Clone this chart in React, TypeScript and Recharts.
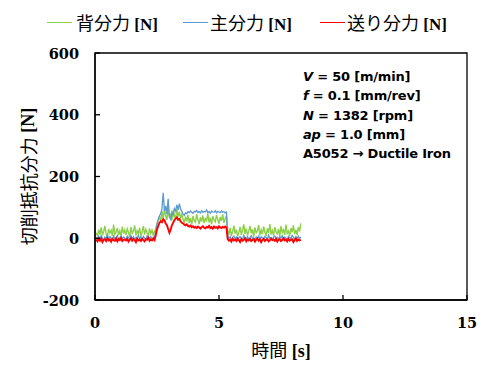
import { LineChart, Line, XAxis, YAxis, ReferenceArea } from 'recharts';

// sample times [s]
const time = [
  0.05, 0.1, 0.15, 0.2, 0.25, 0.3, 0.35, 0.4, 0.45, 0.5, 0.55, 0.6, 0.65, 0.7, 0.75, 0.8, 0.85, 0.9, 0.95, 1.0,
  1.05, 1.1, 1.15, 1.2, 1.25, 1.3, 1.35, 1.4, 1.45, 1.5, 1.55, 1.6, 1.65, 1.7, 1.75, 1.8, 1.85, 1.9, 1.95, 2.0,
  2.05, 2.1, 2.15, 2.2, 2.25, 2.3, 2.35, 2.4, 2.45, 2.5, 2.55, 2.6, 2.65, 2.7, 2.75, 2.8, 2.85, 2.9, 2.95, 3.0,
  3.05, 3.1, 3.15, 3.2, 3.25, 3.3, 3.35, 3.4, 3.45, 3.5, 3.55, 3.6, 3.65, 3.7, 3.75, 3.8, 3.85, 3.9, 3.95, 4.0,
  4.05, 4.1, 4.15, 4.2, 4.25, 4.3, 4.35, 4.4, 4.45, 4.5, 4.55, 4.6, 4.65, 4.7, 4.75, 4.8, 4.85, 4.9, 4.95, 5.0,
  5.05, 5.1, 5.15, 5.2, 5.25, 5.3, 5.35, 5.4, 5.45, 5.5, 5.55, 5.6, 5.65, 5.7, 5.75, 5.8, 5.85, 5.9, 5.95, 6.0,
  6.05, 6.1, 6.15, 6.2, 6.25, 6.3, 6.35, 6.4, 6.45, 6.5, 6.55, 6.6, 6.65, 6.7, 6.75, 6.8, 6.85, 6.9, 6.95, 7.0,
  7.05, 7.1, 7.15, 7.2, 7.25, 7.3, 7.35, 7.4, 7.45, 7.5, 7.55, 7.6, 7.65, 7.7, 7.75, 7.8, 7.85, 7.9, 7.95, 8.0,
  8.05, 8.1, 8.15, 8.2, 8.25, 8.3,
];

// 背分力 [N]
const backForce = [
  18, 6, 28, 12, 35, 9, 22, 40, 14, 5, 30, 17, 26, 8, 44, 13, 20, 33, 10, 24,
  7, 38, 15, 27, 11, 31, 19, 4, 36, 16, 23, 42, 9, 25, 14, 34, 6, 21, 39, 12,
  29, 18, 8, 32, 15, 26, 10, 22,
  30, 45, 58,
  70, 55, 88, 64, 95, 72, 60, 98, 68, 80, 57, 90, 75, 62, 94, 70, 85, 66, 78,
  62, 48, 70, 55, 76, 50, 66, 44, 72, 58, 52, 78, 60, 46, 68, 54, 74, 49, 64, 57,
  80, 51, 67, 45, 71, 59, 53, 75, 61, 47, 69, 56, 77, 50, 65, 72,
  25, 12, 34, 8, 22, 41, 15, 28, 6, 19, 37, 11, 26, 45, 14, 31, 9, 23, 40, 16,
  29, 5, 35, 18, 24, 43, 10, 27, 13, 38, 20, 7, 32, 17, 46, 12, 25, 9, 36, 21,
  14, 30, 6, 39, 18, 27, 11, 44, 16, 23, 8, 33, 19, 42, 13, 28, 10, 37, 22, 48,
];

// 主分力 [N]
const mainForce = [
  3, -4, 6, -2, 8, 0, -6, 4, -1, 10, -3, 5, 1, -5, 7, -2, 3, 9, -4, 2,
  6, -1, 4, 0, -5, 7, 2, -3, 8, -1, 5, -6, 3, 1, 9, -2, 4, -4, 6, 0,
  -3, 7, 2, -1, 5, -5, 3, 1,
  25, 48, 62,
  72, 80, 95, 147, 88, 105, 78, 128, 70, 62, 85, 75, 96, 88, 108, 92, 112, 95, 88,
  78, 74, 82, 80, 86, 83, 88, 84, 81, 87, 85, 90, 83, 86, 82, 89, 84, 87, 85, 92,
  83, 86, 81, 88, 85, 84, 89, 82, 87, 85, 83, 88, 84, 86, 82, 85,
  8, -2, 5, -4, 3, 7, -1, 4, -5, 2, 6, 0, -3, 9, 1, -2, 5, -4, 3, 8,
  -1, 2, -6, 4, 0, 7, -3, 5, 1, -2, 6, 3, -4, 10, 0, 2, -5, 4, 7, -1,
  3, -3, 5, 1, 8, -2, 4, 0, -4, 6, 2, -1, 9, 3, -3, 5, 0, 7, -2, 4,
];

// 送り分力 [N]
const feedForce = [
  -4, -10, -2, -8, -1, -12, -5, -3, -9, 0, -7, -4, -11, -2, -6, -8, -1, -10, -3, -6,
  1, -9, -5, -4, -7, -2, -11, -5, 0, -8, -3, -6, -13, -1, -7, -4, -9, -2, -6, -10,
  -3, -5, 2, -8, -4, -7, -1, -6,
  10, 28, 40,
  50, 55, 52, 62, 58, 48, 42, 30, 18, 28, 42, 50, 58, 64, 68, 60, 62, 55, 50,
  48, 44, 42, 45, 40, 38, 41, 36, 39, 34, 37, 33, 38, 35, 31, 36, 39, 34, 32, 37,
  35, 40, 33, 36, 31, 38, 34, 36, 32, 39, 35, 33, 37, 34, 38, 35,
  -3, -8, -5, -11, -2, -7, -4, -9, -1, -6, -12, -3, -8, -5, 0, -10, -4, -7, -2, -9,
  -6, -3, -11, -5, -1, -8, -4, -13, -6, -2, -9, -5, -3, -10, -7, -1, -6, -4, -8, -2,
  -11, -5, -3, -9, -6, 0, -7, -4, -10, -2, -8, -5, -3, -12, -6, -1, -9, -4, -7, -5,
];

const xTicks = [0, 5, 10, 15];
const yTicks = [-200, 0, 200, 400, 600];

const seriesNames = ['背分力', '主分力', '送り分力'];
const conditions = [
  { it: 'V', rest: ' = 50 [m/min]' },
  { it: 'f', rest: ' = 0.1 [mm/rev]' },
  { it: 'N', rest: ' = 1382 [rpm]' },
  { it: 'ap', rest: ' = 1.0 [mm]' },
  { it: '', rest: 'A5052 → Ductile Iron' },
];

const GREEN = '#8cd048';
const BLUE = '#5a9ad2';
const RED = '#ff0000';
const colors = [GREEN, BLUE, RED];

const data = time.map((t, i) => ({
  t,
  back: backForce[i],
  main: mainForce[i],
  feed: feedForce[i],
}));

const CJK = '"Noto Sans CJK JP", sans-serif';
const SERIF = '"Liberation Serif", "Times New Roman", serif';
const TICK_FONT = '"DejaVu Serif", serif';

const legendPos = [
  { line: 47, text: 76 },
  { line: 183, text: 210 },
  { line: 320, text: 347 },
];

const YTick = ({ x, y, payload }: any) => (
  <text x={x} y={y} textAnchor="end" dominantBaseline="central" fill="#000"
    fontFamily={TICK_FONT} fontWeight="bold" fontSize={14.5}>
    {payload.value}
  </text>
);

const XTick = ({ x, y, payload }: any) => (
  <text x={x} y={y} dy="0.71em" textAnchor="middle" fill="#000"
    fontFamily={TICK_FONT} fontWeight="bold" fontSize={14.5}>
    {payload.value}
  </text>
);

export default function App() {
  return (
    <div style={{ position: 'relative', width: 491, height: 378 }}>
      <style>{'body{margin:0}'}</style>
      <LineChart width={491} height={378} data={data} margin={{ top: 53, right: 24, bottom: 0, left: 0 }}>
        <ReferenceArea x1={0} x2={15} y1={-200} y2={600} stroke="#000" strokeWidth={1.3} fill="none" fillOpacity={0} />
        <XAxis
          dataKey="t"
          type="number"
          domain={[0, 15]}
          ticks={xTicks}
          height={78}
          tickSize={-5}
          tickMargin={23}
          axisLine={{ stroke: '#000', strokeWidth: 1.3 }}
          tickLine={{ stroke: '#000', strokeWidth: 1.3 }}
          tick={<XTick />}
          label={({ viewBox }: any) => (
            <text x={viewBox.x + viewBox.width / 2} y={357} textAnchor="middle" fill="#000">
              <tspan fontFamily={CJK} fontSize={18}>時間</tspan>
              <tspan fontFamily={SERIF} fontSize={18} fontWeight="bold"> [s]</tspan>
            </text>
          )}
        />
        <YAxis
          type="number"
          domain={[-200, 600]}
          ticks={yTicks}
          width={95}
          tickSize={-5}
          tickMargin={21}
          axisLine={{ stroke: '#000', strokeWidth: 1.3 }}
          tickLine={{ stroke: '#000', strokeWidth: 1.3 }}
          tick={<YTick />}
          label={({ viewBox }: any) => {
            const cy = viewBox.y + viewBox.height / 2;
            return (
              <text x={28} y={cy} textAnchor="middle" dominantBaseline="central" fill="#000"
                transform={`rotate(-90, 28, ${cy})`}>
                <tspan fontFamily={CJK} fontSize={18}>切削抵抗分力</tspan>
                <tspan fontFamily={SERIF} fontSize={18} fontWeight="bold"> [N]</tspan>
              </text>
            );
          }}
        />
        <Line dataKey="back" name="背分力 [N]" stroke={GREEN} strokeWidth={1.4} dot={false} isAnimationActive={false} />
        <Line dataKey="main" name="主分力 [N]" stroke={BLUE} strokeWidth={1.3} dot={false} isAnimationActive={false} />
        <Line dataKey="feed" name="送り分力 [N]" stroke={RED} strokeWidth={1.9} dot={false} isAnimationActive={false} />
      </LineChart>

      {/* legend */}
      {seriesNames.map((name, i) => (
        <div key={name}>
          <div
            style={{
              position: 'absolute', left: legendPos[i].line, top: 22, width: 25, height: 1,
              background: colors[i],
            }}
          />
          <div
            style={{
              position: 'absolute', left: legendPos[i].text, top: 8, whiteSpace: 'nowrap',
              lineHeight: '28px', color: '#000',
            }}
          >
            <span style={{ fontFamily: CJK, fontSize: 18 }}>{name}</span>
            <span style={{ fontFamily: SERIF, fontSize: 17, fontWeight: 'bold' }}> [N]</span>
          </div>
        </div>
      ))}

      {/* cutting conditions */}
      <div
        style={{
          position: 'absolute', left: 303, top: 67, fontFamily: '"DejaVu Sans", sans-serif',
          fontWeight: 'bold', fontSize: 13, lineHeight: '19.3px', color: '#000', letterSpacing: -0.2,
        }}
      >
        {conditions.map((c, i) => (
          <div key={i} style={{ whiteSpace: 'nowrap' }}>
            {c.it && <i>{c.it}</i>}
            {c.rest}
          </div>
        ))}
      </div>
    </div>
  );
}
